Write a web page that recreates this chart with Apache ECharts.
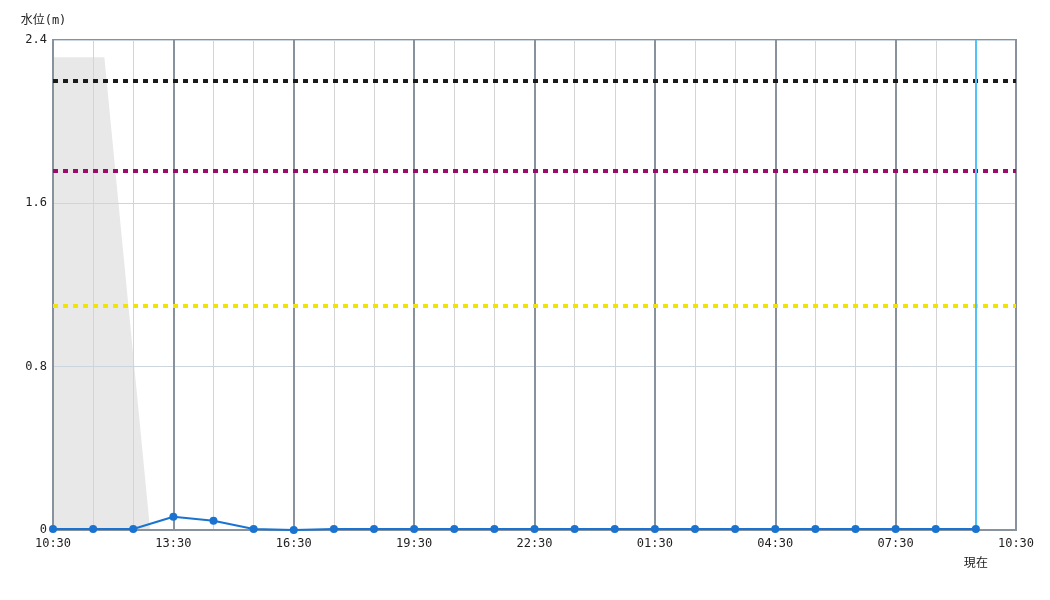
<!DOCTYPE html>
<html>
<head>
<meta charset="utf-8">
<script src="https://cdn.jsdelivr.net/npm/echarts@6/dist/echarts.min.js"></script>
<style>
  html, body { margin: 0; padding: 0; background: #fff; }
  #chart { width: 1050px; height: 600px; }
</style>
</head>
<body>
<div id="chart"></div>
<script>
// 毎時観測時刻（10:30 起点）
const times = ['10:30','11:30','12:30','13:30','14:30','15:30','16:30','17:30','18:30','19:30',
  '20:30','21:30','22:30','23:30','00:30','01:30','02:30','03:30','04:30','05:30',
  '06:30','07:30','08:30','09:30'];
// 水位（m）
const levels = [0.005, 0.005, 0.005, 0.065, 0.045, 0.005, 0, 0.005, 0.005, 0.005,
  0.005, 0.005, 0.005, 0.005, 0.005, 0.005, 0.005, 0.005, 0.005, 0.005,
  0.005, 0.005, 0.005, 0.005];
// 横軸目盛ラベル（3時間ごと）
const tickLabels = ['10:30','13:30','16:30','19:30','22:30','01:30','04:30','07:30','10:30'];
// 基準水位
const thresholds = [2.2, 1.76, 1.1];
const thresholdColors = ['#1a1a1a', '#9e0a6c', '#f2e400'];
// 灰色の帯（経過時間, 値）
const bandHours = [0, 1.28, 2.42];
const bandValues = [2.315, 2.315, 0];
const nowIndex = 23;

const monoFont = "'DejaVu Sans Mono', 'Noto Sans CJK JP', monospace";
const chart = echarts.init(document.getElementById('chart'));

chart.setOption({
  animation: false,
  backgroundColor: '#fff',
  grid: {
    left: 53, right: 34, top: 40, bottom: 70,
    show: true, borderColor: '#87929c', borderWidth: 2
  },
  xAxis: {
    type: 'value',
    min: 0, max: 24, interval: 3,
    axisLine: { show: true, lineStyle: { color: '#87929c', width: 2 } },
    axisTick: { show: false },
    axisLabel: {
      margin: 8,
      fontFamily: monoFont, fontSize: 12, color: '#222',
      formatter: v => tickLabels[Math.round(v / 3)]
    },
    splitLine: { show: true, lineStyle: { color: '#87929c', width: 2 } },
    minorTick: { show: false, splitNumber: 3 },
    minorSplitLine: { show: true, lineStyle: { color: '#d4d4d4', width: 1 } }
  },
  yAxis: {
    type: 'value',
    min: 0, max: 2.4, interval: 0.8,
    name: '水位(m)',
    nameGap: 13,
    nameTextStyle: {
      fontFamily: monoFont, fontSize: 12, color: '#222',
      align: 'center', padding: [0, 19, 0, 0]
    },
    axisLine: { show: true, lineStyle: { color: '#87929c', width: 2 } },
    axisTick: { show: false },
    axisLabel: {
      margin: 6,
      fontFamily: monoFont, fontSize: 12, color: '#222',
      formatter: v => (v === 0 ? '0' : v.toFixed(1))
    },
    splitLine: { show: true, lineStyle: { color: '#cbd6de', width: 1 } }
  },
  series: [{
    // 灰色の帯
    type: 'line',
    z: -1,
    data: bandHours.map((h, i) => [h, bandValues[i]]),
    symbol: 'none',
    lineStyle: { width: 0 },
    areaStyle: { color: '#e8e8e8', opacity: 1 },
    silent: true
  }, {
    // 水位
    type: 'line',
    data: levels.map((v, i) => [i, v]),
    symbol: 'circle',
    symbolSize: 8,
    lineStyle: { color: '#1a73d0', width: 2 },
    itemStyle: { color: '#1a73d0' },
    z: 5,
    markLine: {
      silent: true,
      symbol: 'none',
      data: thresholds.map((t, i) => ({
        yAxis: t,
        label: { show: false },
        lineStyle: { color: thresholdColors[i], width: 4, type: [5, 5] }
      })).concat([{
        xAxis: nowIndex,
        lineStyle: { color: '#4fc3f7', width: 2, type: 'solid' },
        label: {
          show: true, position: 'start', distance: 26,
          formatter: '現在',
          fontFamily: "'Noto Sans CJK JP', sans-serif", fontSize: 12, color: '#222'
        }
      }])
    }
  }]
});
</script>
</body>
</html>
